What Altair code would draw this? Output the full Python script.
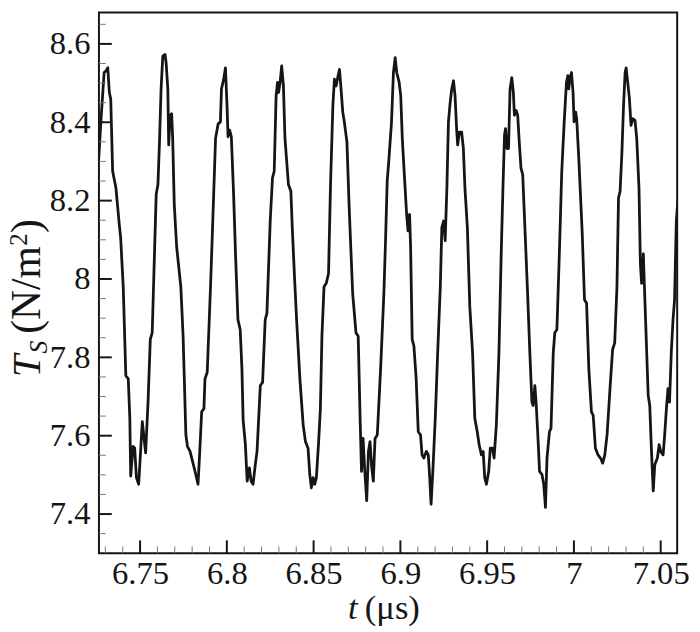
import altair as alt
import pandas as pd

# ---- data ----
t_us = [6.7261, 6.7274, 6.7293, 6.7304, 6.7314, 6.7323, 6.7331, 6.7342, 6.7361, 6.7380,
        6.7388, 6.7403, 6.7418, 6.7432, 6.7441, 6.7446, 6.7460, 6.7469, 6.7479, 6.7492,
        6.7503, 6.7513, 6.7523, 6.7532, 6.7546, 6.7559, 6.7570, 6.7583, 6.7593, 6.7603,
        6.7612, 6.7621, 6.7631, 6.7644, 6.7650, 6.7660, 6.7665, 6.7673, 6.7682, 6.7688,
        6.7697, 6.7711, 6.7735, 6.7748, 6.7764, 6.7773, 6.7788, 6.7805, 6.7821, 6.7834,
        6.7844, 6.7855, 6.7868, 6.7874, 6.7887, 6.7906, 6.7919, 6.7935, 6.7950, 6.7963,
        6.7969, 6.7982, 6.7992, 6.8001, 6.8007, 6.8016, 6.8026, 6.8039, 6.8050, 6.8064,
        6.8077, 6.8087, 6.8094, 6.8107, 6.8117, 6.8130, 6.8140, 6.8151, 6.8164, 6.8174,
        6.8193, 6.8206, 6.8221, 6.8231, 6.8250, 6.8263, 6.8273, 6.8284, 6.8292, 6.8298,
        6.8307, 6.8316, 6.8326, 6.8335, 6.8355, 6.8369, 6.8377, 6.8389, 6.8402, 6.8421,
        6.8440, 6.8453, 6.8468, 6.8478, 6.8487, 6.8497, 6.8506, 6.8516, 6.8529, 6.8539,
        6.8548, 6.8560, 6.8573, 6.8586, 6.8597, 6.8611, 6.8620, 6.8630, 6.8639, 6.8649,
        6.8658, 6.8668, 6.8677, 6.8692, 6.8705, 6.8725, 6.8744, 6.8757, 6.8768, 6.8776,
        6.8785, 6.8795, 6.8806, 6.8816, 6.8825, 6.8835, 6.8844, 6.8854, 6.8867, 6.8886,
        6.8905, 6.8915, 6.8924, 6.8933, 6.8949, 6.8960, 6.8970, 6.8979, 6.8993, 6.9002,
        6.9011, 6.9025, 6.9036, 6.9044, 6.9053, 6.9059, 6.9068, 6.9078, 6.9091, 6.9103,
        6.9116, 6.9125, 6.9135, 6.9150, 6.9161, 6.9169, 6.9177, 6.9188, 6.9201, 6.9215,
        6.9230, 6.9239, 6.9249, 6.9258, 6.9268, 6.9277, 6.9287, 6.9296, 6.9306, 6.9315,
        6.9325, 6.9330, 6.9340, 6.9353, 6.9363, 6.9372, 6.9386, 6.9400, 6.9416, 6.9429,
        6.9443, 6.9454, 6.9467, 6.9477, 6.9486, 6.9496, 6.9509, 6.9518, 6.9530, 6.9540,
        6.9553, 6.9568, 6.9581, 6.9591, 6.9600, 6.9606, 6.9614, 6.9623, 6.9632, 6.9642,
        6.9651, 6.9657, 6.9667, 6.9676, 6.9685, 6.9695, 6.9705, 6.9720, 6.9733, 6.9746,
        6.9758, 6.9765, 6.9775, 6.9782, 6.9792, 6.9802, 6.9816, 6.9826, 6.9836, 6.9845,
        6.9859, 6.9868, 6.9881, 6.9890, 6.9902, 6.9916, 6.9930, 6.9944, 6.9957, 6.9965,
        6.9970, 6.9978, 6.9986, 6.9995, 7.0001, 7.0010, 7.0016, 7.0029, 7.0048, 7.0061,
        7.0073, 7.0086, 7.0101, 7.0111, 7.0124, 7.0139, 7.0153, 7.0166, 7.0178, 7.0191,
        7.0209, 7.0223, 7.0235, 7.0248, 7.0257, 7.0266, 7.0276, 7.0286, 7.0295, 7.0301,
        7.0310, 7.0320, 7.0329, 7.0339, 7.0352, 7.0362, 7.0375, 7.0383, 7.0390, 7.0400,
        7.0405, 7.0413, 7.0428, 7.0437, 7.0447, 7.0457, 7.0466, 7.0481, 7.0491, 7.0500,
        7.0514, 7.0523, 7.0533, 7.0542, 7.0551, 7.0561, 7.0571, 7.0580, 7.0590, 7.0599]

ts = [8.300, 8.401, 8.527, 8.531, 8.539, 8.476, 8.459, 8.275, 8.232, 8.140,
      8.106, 7.980, 7.753, 7.745, 7.644, 7.497, 7.573, 7.568, 7.493, 7.476,
      7.560, 7.636, 7.593, 7.556, 7.686, 7.846, 7.863, 8.064, 8.216, 8.241,
      8.350, 8.485, 8.569, 8.573, 8.552, 8.485, 8.342, 8.418, 8.422, 8.359,
      8.191, 8.081, 7.980, 7.854, 7.602, 7.573, 7.560, 7.530, 7.501, 7.476,
      7.560, 7.661, 7.669, 7.745, 7.762, 7.980, 8.148, 8.359, 8.396, 8.401,
      8.485, 8.510, 8.539, 8.443, 8.363, 8.380, 8.363, 8.216, 8.064, 7.896,
      7.871, 7.770, 7.639, 7.577, 7.484, 7.518, 7.484, 7.476, 7.526, 7.560,
      7.728, 7.736, 7.896, 7.913, 8.148, 8.258, 8.275, 8.468, 8.502, 8.476,
      8.502, 8.544, 8.493, 8.359, 8.241, 8.224, 8.132, 8.014, 7.896, 7.745,
      7.627, 7.585, 7.568, 7.501, 7.467, 7.493, 7.476, 7.493, 7.585, 7.669,
      7.854, 7.980, 7.989, 8.014, 8.232, 8.443, 8.510, 8.493, 8.514, 8.535,
      8.485, 8.426, 8.401, 8.350, 8.182, 7.964, 7.863, 7.854, 7.644, 7.509,
      7.593, 7.509, 7.434, 7.560, 7.585, 7.518, 7.484, 7.593, 7.602, 7.770,
      7.964, 8.106, 8.249, 8.300, 8.401, 8.527, 8.565, 8.527, 8.502, 8.468,
      8.359, 8.249, 8.165, 8.123, 8.165, 8.081, 7.846, 7.829, 7.745, 7.610,
      7.602, 7.551, 7.543, 7.560, 7.551, 7.493, 7.425, 7.518, 7.644, 7.812,
      7.980, 8.132, 8.148, 8.098, 8.232, 8.401, 8.451, 8.485, 8.506, 8.468,
      8.375, 8.342, 8.375, 8.375, 8.333, 8.232, 8.132, 7.930, 7.812, 7.644,
      7.610, 7.577, 7.551, 7.560, 7.493, 7.476, 7.509, 7.568, 7.568, 7.543,
      7.627, 7.812, 8.064, 8.232, 8.367, 8.384, 8.333, 8.333, 8.485, 8.514,
      8.476, 8.418, 8.430, 8.418, 8.350, 8.283, 8.266, 8.106, 7.964, 7.812,
      7.686, 7.677, 7.728, 7.686, 7.602, 7.509, 7.501, 7.476, 7.417, 7.543,
      7.610, 7.619, 7.812, 7.863, 7.871, 8.064, 8.275, 8.401, 8.502, 8.519,
      8.485, 8.514, 8.527, 8.476, 8.401, 8.426, 8.409, 8.300, 8.115, 7.947,
      7.938, 7.770, 7.661, 7.652, 7.568, 7.551, 7.543, 7.530, 7.551, 7.602,
      7.728, 7.820, 7.837, 7.980, 8.207, 8.224, 8.317, 8.443, 8.527, 8.539,
      8.502, 8.459, 8.392, 8.409, 8.405, 8.359, 8.232, 8.039, 7.989, 8.064,
      7.997, 7.896, 7.703, 7.677, 7.560, 7.459, 7.526, 7.543, 7.577, 7.560,
      7.551, 7.602, 7.669, 7.720, 7.686, 7.812, 7.896, 7.947, 8.148, 8.199]

x_major = [6.75, 6.8, 6.85, 6.9, 6.95, 7.0, 7.05]
x_minor = [6.73, 6.74, 6.76, 6.77, 6.78, 6.79, 6.81, 6.82, 6.83, 6.84,
           6.86, 6.87, 6.88, 6.89, 6.91, 6.92, 6.93, 6.94, 6.96, 6.97,
           6.98, 6.99, 7.01, 7.02, 7.03, 7.04]
y_major = [7.4, 7.6, 7.8, 8.0, 8.2, 8.4, 8.6]
y_minor = [7.35, 7.45, 7.5, 7.55, 7.65, 7.7, 7.75, 7.85, 7.9, 7.95,
           8.05, 8.1, 8.15, 8.25, 8.3, 8.35, 8.45, 8.5, 8.55, 8.65]

# ---- layout ----
W, H = 585, 547
FONT = "Liberation Serif"
INK = "#151515"

xs = alt.Scale(domain=[6.7263, 7.0595], nice=False, zero=False)
ys = alt.Scale(domain=[7.3, 8.68], nice=False, zero=False)

x_axis = alt.Axis(values=x_major, format="~g", ticks=False, domain=False, grid=False,
                  labelFont=FONT, labelFontSize=33, labelColor=INK, labelPadding=5,
                  title=None, labelFlush=False, labelOverlap=False)
y_axis = alt.Axis(values=y_major, format="~g", ticks=False, domain=False, grid=False,
                  labelFont=FONT, labelFontSize=33, labelColor=INK, labelPadding=9,
                  title=None, labelFlush=False, labelOverlap=False)

df = pd.DataFrame({"t": t_us, "v": ts, "i": list(range(len(t_us)))})

line = alt.Chart(df).mark_line(
    color=INK, strokeWidth=2.8, clip=True, strokeJoin="round"
).encode(
    x=alt.X("t:Q", scale=xs, axis=x_axis),
    y=alt.Y("v:Q", scale=ys, axis=y_axis),
    order="i:Q",
)

xmaj = alt.Chart(pd.DataFrame({"t": x_major})).mark_rule(color=INK, strokeWidth=2).encode(
    x=alt.X("t:Q", scale=xs, axis=x_axis), y=alt.value(H), y2=alt.value(H - 13))
xmin = alt.Chart(pd.DataFrame({"t": x_minor})).mark_rule(color="#777", strokeWidth=1).encode(
    x=alt.X("t:Q", scale=xs, axis=x_axis), y=alt.value(H), y2=alt.value(H - 7))
ymaj = alt.Chart(pd.DataFrame({"v": y_major})).mark_rule(color=INK, strokeWidth=2).encode(
    y=alt.Y("v:Q", scale=ys, axis=y_axis), x=alt.value(0), x2=alt.value(13))
ymin = alt.Chart(pd.DataFrame({"v": y_minor})).mark_rule(color="#777", strokeWidth=1).encode(
    y=alt.Y("v:Q", scale=ys, axis=y_axis), x=alt.value(0), x2=alt.value(7))


def txt(s, x, y, size, style="normal", angle=0, align="left"):
    return alt.Chart(pd.DataFrame({"s": [s]})).mark_text(
        font=FONT, fontSize=size, fontStyle=style, color=INK, angle=angle,
        align=align, baseline="alphabetic"
    ).encode(text="s:N", x=alt.value(x), y=alt.value(y))


# y title: T_S (N/m^2), rotated
yt = [
    txt("T", -60, 369, 41, "italic", 270),
    txt("S", -53, 345, 26, "italic", 270),
    txt("(N/m", -60, 325, 42, "normal", 270),
    txt("2", -73, 236, 25, "normal", 270),
    txt(")", -60, 223, 42, "normal", 270),
]
# x title: t (μs)
xt = [
    txt("t", 252, 614, 35, "italic"),
    txt("(μs)", 269, 614, 35, "normal"),
]

chart = alt.layer(line, xmin, xmaj, ymin, ymaj, *yt, *xt).properties(
    width=W, height=H,
    autosize=alt.AutoSizeParams(type="none"),
    padding={"left": 92, "top": 1, "right": 15, "bottom": 70},
    background="white",
).configure_view(stroke=INK, strokeWidth=2).configure_axis(
    labelFont=FONT, labelFontSize=33, labelColor=INK
)

chart.save("out.html", embed_options={"renderer": "svg", "actions": False})
